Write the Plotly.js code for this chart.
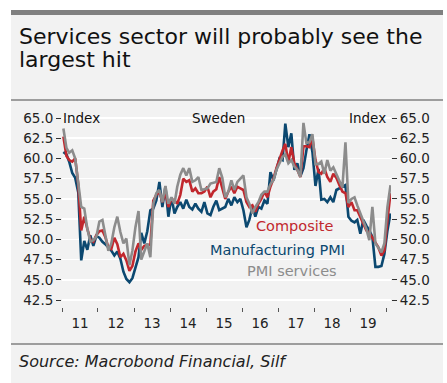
<!DOCTYPE html>
<html>
<head>
<meta charset="utf-8">
<script src="https://cdn.plot.ly/plotly-3.0.1.min.js"></script>
<style>html,body{margin:0;padding:0;background:#fff;}#chart{width:447px;height:383px;}</style>
</head>
<body>
<div id="chart"></div>
<script>
// Monthly data, Jan 2011 - Feb 2020
var startYear = 2011;
var manufacturing = [
  60.8, 60.5, 59.6, 58.2, 57.6, 55.8, 47.4, 49.8, 48.7, 50.5, 49.2, 50.4,
  50.2, 49.7, 49.4, 49.0, 48.6, 48.0, 48.5, 47.6, 46.0, 45.1, 44.7, 45.2,
  46.6, 47.8, 50.8, 49.5, 51.0, 53.6, 53.8, 54.8, 57.1, 54.0, 56.5, 52.8,
  55.2, 53.2, 54.0, 54.6, 53.8, 54.9, 54.0, 53.7, 54.4, 53.8, 53.4, 54.6,
  53.2, 53.0, 54.0, 54.8, 53.6, 53.8, 54.0, 55.0, 54.2, 55.2, 54.6, 55.0,
  53.6, 51.5, 52.4, 54.0, 52.8, 54.0, 53.8, 54.8, 54.4, 58.3, 57.3, 58.6,
  60.0, 59.8, 64.3, 61.4, 63.1, 58.6, 59.4, 57.8, 58.8, 61.0, 63.0, 60.8,
  56.6, 58.7, 54.9, 55.0, 54.6, 55.2, 54.6, 56.1, 56.3, 56.5, 56.7, 52.8,
  52.3, 52.1, 52.4, 50.7, 52.4, 51.7, 51.1, 50.3, 46.6, 46.6, 46.7, 48.2,
  51.1, 53.2
];
var composite = [
  62.7, 60.3, 59.8, 59.6, 60.0, 56.8, 51.1, 52.8, 51.3, 50.0, 49.7, 50.5,
  51.0, 51.1, 50.3, 49.0, 48.8, 50.2, 49.4, 47.8, 48.2, 47.4, 46.1, 46.7,
  48.5, 49.5, 48.7, 49.2, 49.3, 49.3, 54.8, 55.5, 55.9, 54.6, 55.9, 54.0,
  55.0, 54.8, 54.4, 55.5, 57.5, 57.1, 57.3, 55.9, 56.3, 55.7, 55.7, 55.9,
  56.5, 55.2, 55.9, 56.2, 57.7, 56.2, 55.0, 55.9, 56.5, 55.7, 56.5, 56.3,
  56.1, 54.6, 54.0, 54.2, 53.4, 54.4, 55.0, 55.9, 55.2, 56.5, 57.5, 58.8,
  60.0, 61.0, 61.8, 59.5, 61.4, 59.4, 58.6, 57.7, 61.5, 61.5, 61.4, 62.5,
  59.8, 58.3, 58.1, 58.8, 57.7, 57.1, 58.1, 57.6, 56.7, 55.9, 55.7, 54.0,
  54.6, 53.6, 53.6, 52.8, 51.9, 51.1, 50.8, 50.2, 49.7, 49.0, 48.0, 48.6,
  52.4, 55.7
];
var services = [
  63.7, 61.3, 60.7, 61.0, 60.0, 57.0, 54.0, 53.8, 51.3, 49.7, 49.9, 50.3,
  52.2, 52.4, 50.5, 48.6, 49.5, 51.5, 52.8, 50.9, 49.5, 50.1, 46.8, 48.6,
  51.5, 53.5, 47.5, 48.5, 49.5, 47.8, 54.4, 55.7, 56.1, 54.6, 56.6, 54.4,
  55.2, 54.4, 56.5, 58.0, 58.8, 57.9, 58.8, 57.1, 57.3, 57.7, 56.1, 56.2,
  56.3, 56.9, 57.0, 57.1, 58.8, 57.6, 55.2, 55.9, 57.3, 56.1, 57.1, 57.5,
  57.9, 55.2, 54.4, 53.2, 54.0, 54.6, 55.5, 55.9, 55.9, 56.8, 57.3, 58.6,
  59.4, 60.2, 60.5, 59.4, 59.8, 59.0, 58.6, 57.7, 64.4, 61.9, 62.0, 63.0,
  59.3, 59.3, 59.6, 58.1, 59.8, 58.5, 58.9, 58.1, 57.3, 56.4, 62.0, 54.5,
  55.0, 55.2, 54.2, 53.2, 52.4, 51.3, 49.9, 54.0, 49.5, 49.0, 48.4, 49.5,
  54.0, 56.7
];
var yTicks = [42.5, 45.0, 47.5, 50.0, 52.5, 55.0, 57.5, 60.0, 62.5, 65.0];

var months = [];
for (var i = 0; i < manufacturing.length; i++) {
  var yr = startYear + Math.floor(i / 12);
  var mo = (i % 12) + 1;
  months.push(yr + '-' + (mo < 10 ? '0' + mo : mo) + '-15');
}

var FONT = 'DejaVu Sans, sans-serif';
var BLUE = '#0b4870', RED = '#c1272d', GRAY = '#8c8c8c';

var traces = [
  {x: months, y: manufacturing, type: 'scatter', mode: 'lines', line: {color: BLUE, width: 2.6}, hoverinfo: 'skip'},
  {x: months, y: composite, type: 'scatter', mode: 'lines', line: {color: RED, width: 2.6}, hoverinfo: 'skip'},
  {x: months, y: services, type: 'scatter', mode: 'lines', line: {color: GRAY, width: 2.6}, hoverinfo: 'skip'},
  {x: [months[0]], y: [manufacturing[0]], yaxis: 'y2', type: 'scatter', mode: 'markers', marker: {opacity: 0}, hoverinfo: 'skip'}
];

// pixel helpers (plot area: x 62..391, y 106..307)
function px(x) { return (x - 62) / 329; }
function py(y) { return (307 - y) / 201; }

var yRange = [41.635, 66.483];
var layout = {
  width: 447, height: 383,
  margin: {l: 62, r: 56, t: 106, b: 76, pad: 0},
  paper_bgcolor: '#ffffff',
  plot_bgcolor: '#f2f2f2',
  showlegend: false,
  font: {family: FONT, size: 13, color: '#222'},
  xaxis: {
    type: 'date',
    range: ['2011-01-01', '2020-02-20'],
    tick0: '2011-01-01', dtick: 'M12', tickformat: '%y',
    ticklabelmode: 'period',
    ticks: 'outside', ticklen: 4, tickwidth: 1, tickcolor: '#555',
    showgrid: false, zeroline: false, showline: false,
    tickfont: {family: FONT, size: 13.5, color: '#222'}
  },
  yaxis: {
    range: yRange, tickvals: yTicks, tickformat: '.1f',
    ticks: 'outside', ticklen: 5, tickwidth: 1, tickcolor: '#333',
    showgrid: true, gridcolor: '#ffffff', gridwidth: 1.5,
    zeroline: false, showline: false,
    tickfont: {family: FONT, size: 13.5, color: '#222'}
  },
  yaxis2: {
    overlaying: 'y', side: 'right',
    range: yRange, tickvals: yTicks, tickformat: '.1f',
    ticks: 'outside', ticklen: 5, tickwidth: 1, tickcolor: '#333',
    showgrid: false, zeroline: false, showline: false,
    tickfont: {family: FONT, size: 13.5, color: '#222'}
  },
  shapes: [
    {type: 'rect', xref: 'paper', yref: 'paper', x0: px(11), x1: px(443), y0: py(383), y1: py(15), fillcolor: '#f2f2f2', line: {width: 0}, layer: 'below'},
    {type: 'rect', xref: 'paper', yref: 'paper', x0: px(11), x1: px(443), y0: py(15), y1: py(10), fillcolor: '#808080', line: {width: 0}, layer: 'below'},
    {type: 'line', xref: 'paper', yref: 'paper', x0: px(11), x1: px(443), y0: py(100), y1: py(100), line: {color: '#808080', width: 1.5}},
    {type: 'line', xref: 'paper', yref: 'paper', x0: px(11), x1: px(443), y0: py(344), y1: py(344), line: {color: '#808080', width: 1.5}}
  ],
  annotations: [
    {xref: 'paper', yref: 'paper', x: px(17), y: py(36), xanchor: 'left', yanchor: 'middle', showarrow: false,
     text: 'Services sector will probably see the', font: {family: FONT, size: 22, color: '#111'}},
    {xref: 'paper', yref: 'paper', x: px(17), y: py(60), xanchor: 'left', yanchor: 'middle', showarrow: false,
     text: 'largest hit', font: {family: FONT, size: 22, color: '#111'}},
    {xref: 'paper', yref: 'paper', x: px(17), y: py(361), xanchor: 'left', yanchor: 'middle', showarrow: false,
     text: '<i>Source: Macrobond Financial, Silf</i>', font: {family: FONT, size: 16, color: '#222'}},
    {xref: 'paper', yref: 'paper', x: px(61), y: py(118), xanchor: 'left', yanchor: 'middle', showarrow: false,
     text: 'Index', font: {family: FONT, size: 13.5, color: '#111'}},
    {xref: 'paper', yref: 'paper', x: px(218), y: py(118), xanchor: 'center', yanchor: 'middle', showarrow: false,
     text: 'Sweden', font: {family: FONT, size: 13.5, color: '#111'}},
    {xref: 'paper', yref: 'paper', x: px(388), y: py(118), xanchor: 'right', yanchor: 'middle', showarrow: false,
     text: 'Index', font: {family: FONT, size: 13.5, color: '#111'}},
    {xref: 'paper', yref: 'paper', x: px(294.5), y: py(226), xanchor: 'center', yanchor: 'middle', showarrow: false,
     text: 'Composite', font: {family: FONT, size: 14.5, color: RED}},
    {xref: 'paper', yref: 'paper', x: px(277), y: py(250), xanchor: 'center', yanchor: 'middle', showarrow: false,
     text: 'Manufacturing PMI', font: {family: FONT, size: 14.5, color: BLUE}},
    {xref: 'paper', yref: 'paper', x: px(292), y: py(271), xanchor: 'center', yanchor: 'middle', showarrow: false,
     text: 'PMI services', font: {family: FONT, size: 14.5, color: GRAY}}
  ]
};

Plotly.newPlot('chart', traces, layout, {staticPlot: true, displayModeBar: false});
</script>
</body>
</html>
